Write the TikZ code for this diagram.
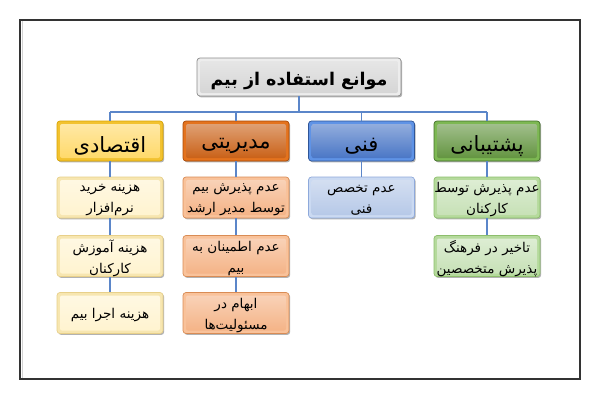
\documentclass[tikz,border=0pt]{standalone}
\usepackage{fontspec}
\newfontfamily\fa[Script=Arabic]{DejaVu Sans}
\TeXXeTstate=1
\usetikzlibrary{shadows}
\newcommand{\rtl}[2][2.5pt]{\raisebox{-#1}[\height][\depth]{\beginR #2\endR}}
\definecolor{linkblue}{HTML}{5B86C9}
\definecolor{frameC}{HTML}{333333}
\definecolor{tEdge}{HTML}{EDEDED}\definecolor{tFace}{HTML}{D4D4D4}\definecolor{tLine}{HTML}{8C8C8C}
\definecolor{yEdge}{HTML}{F2C230}\definecolor{yFace}{HTML}{FFD865}\definecolor{yLine}{HTML}{D9A400}
\definecolor{oEdge}{HTML}{E4731E}\definecolor{oFace}{HTML}{C85C10}\definecolor{oLine}{HTML}{A84A08}
\definecolor{bEdge}{HTML}{5F93E6}\definecolor{bFace}{HTML}{4472C4}\definecolor{bLine}{HTML}{2F5597}
\definecolor{gEdge}{HTML}{7DB853}\definecolor{gFace}{HTML}{5E913A}\definecolor{gLine}{HTML}{44702A}
\definecolor{ysEdge}{HTML}{F7E6B0}\definecolor{ysFace}{HTML}{FFF3CE}\definecolor{ysLine}{HTML}{E8D08A}
\definecolor{osEdge}{HTML}{F9C29A}\definecolor{osFace}{HTML}{F4B183}\definecolor{osLine}{HTML}{D98C55}
\definecolor{bsEdge}{HTML}{CBDAF2}\definecolor{bsFace}{HTML}{B4C7E7}\definecolor{bsLine}{HTML}{8EA9DB}
\definecolor{gsEdge}{HTML}{B5DA9C}\definecolor{gsFace}{HTML}{C5E0B4}\definecolor{gsLine}{HTML}{8DBE6C}
\tikzset{
  box/.style n args={3}{rounded corners=3pt, draw=#3, fill=#1, line width=0.7pt,
    inner sep=0pt, minimum width=106pt, minimum height=40pt, align=center,
    drop shadow={shadow xshift=1.2pt, shadow yshift=-1.4pt, opacity=0.3, fill=black},
    path picture={\shade[top color=#2!55!white, bottom color=#2, rounded corners=2pt]
      ([shift={(3pt,3pt)}]path picture bounding box.south west) rectangle
      ([shift={(-3pt,-3pt)}]path picture bounding box.north east);}},
  lvlone/.style={font=\fa\fontsize{21}{24}\selectfont, text=black},
  lvltwo/.style={font=\fa\fontsize{13.5}{21}\selectfont, text=black, minimum height=41pt},
  conn/.style={draw=linkblue, line width=1.1pt}
}
\begin{document}
\begin{tikzpicture}[x=1pt,y=-1pt]
\useasboundingbox (0,0) rectangle (600,400);
\fill[white] (0,0) rectangle (600,400);
\draw[gray!35, line width=1pt] (22,21) -- (22,378) -- (579,378);
\draw[frameC, line width=1.5pt] (20,20) rectangle (580,379);

\node[box={tEdge}{tFace}{tLine}, minimum width=204pt, minimum height=38pt,
  font=\fa\bfseries\fontsize{17.5}{20}\selectfont] (t) at (299,77) {\rtl[4pt]{موانع استفاده از بیم}};

\node[box={yEdge}{yFace}{yLine}, lvlone] (y) at (110,141) {\rtl[5pt]{اقتصادی}};
\node[box={oEdge}{oFace}{oLine}, lvlone] (o) at (236,141) {\rtl[5pt]{مدیریتی}};
\node[box={bEdge}{bFace}{bLine}, lvlone] (b) at (361.5,141) {\rtl[5pt]{فنی}};
\node[box={gEdge}{gFace}{gLine}, lvlone] (g) at (487,141) {\rtl[5pt]{پشتیبانی}};

\node[box={ysEdge}{ysFace}{ysLine}, lvltwo] (y1) at (110,197.5) {\rtl{هزینه خرید}\\\rtl{نرم‌افزار}};
\node[box={ysEdge}{ysFace}{ysLine}, lvltwo] (y2) at (110,256) {\rtl{هزینه آموزش}\\\rtl{کارکنان}};
\node[box={ysEdge}{ysFace}{ysLine}, lvltwo] (y3) at (110,313) {\rtl{هزینه اجرا بیم}};

\node[box={osEdge}{osFace}{osLine}, lvltwo] (o1) at (236,197.5) {\rtl{عدم پذیرش بیم}\\\rtl{توسط مدیر ارشد}};
\node[box={osEdge}{osFace}{osLine}, lvltwo] (o2) at (236,256) {\rtl{عدم اطمینان به}\\\rtl{بیم}};
\node[box={osEdge}{osFace}{osLine}, lvltwo] (o3) at (236,313) {\rtl{ابهام در}\\\rtl{مسئولیت‌ها}};

\node[box={bsEdge}{bsFace}{bsLine}, lvltwo] (b1) at (361.5,197.5) {\rtl{عدم تخصص}\\\rtl{فنی}};

\node[box={gsEdge}{gsFace}{gsLine}, lvltwo] (g1) at (487,197.5) {\rtl{عدم پذیرش توسط}\\\rtl{کارکنان}};
\node[box={gsEdge}{gsFace}{gsLine}, lvltwo] (g2) at (487,256) {\rtl{تاخیر در فرهنگ}\\\rtl{پذیرش متخصصین}};

\coordinate (busL) at (110,112);
\coordinate (busR) at (487,112);
\draw[conn] (busL) -- (busR);
\draw[conn] (t.south) -- (t.south |- busL);
\foreach \n in {y,o,b,g} \draw[conn] (\n.north) -- (\n.north |- busL);
\draw[conn] (y.south) -- (y1.north);
\draw[conn] (y1.south) -- (y2.north);
\draw[conn] (y2.south) -- (y3.north);
\draw[conn] (o.south) -- (o1.north);
\draw[conn] (o1.south) -- (o2.north);
\draw[conn] (o2.south) -- (o3.north);
\draw[conn] (b.south) -- (b1.north);
\draw[conn] (g.south) -- (g1.north);
\draw[conn] (g1.south) -- (g2.north);
\end{tikzpicture}
\end{document}
